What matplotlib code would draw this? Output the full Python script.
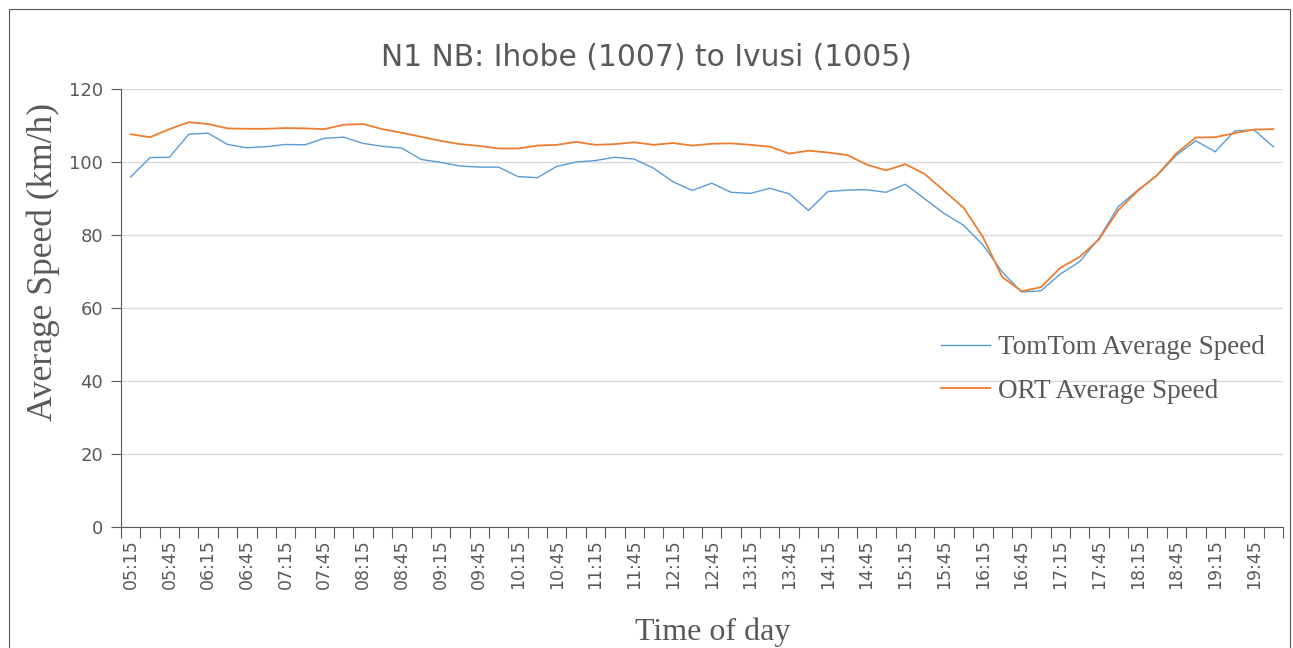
import numpy as np
import matplotlib
matplotlib.use("Agg")
import matplotlib.pyplot as plt
from matplotlib.patches import Rectangle

# 15-minute bins from 05:15 to 20:00
times = ["05:15", "05:30", "05:45", "06:00", "06:15", "06:30", "06:45", "07:00",
         "07:15", "07:30", "07:45", "08:00", "08:15", "08:30", "08:45", "09:00",
         "09:15", "09:30", "09:45", "10:00", "10:15", "10:30", "10:45", "11:00",
         "11:15", "11:30", "11:45", "12:00", "12:15", "12:30", "12:45", "13:00",
         "13:15", "13:30", "13:45", "14:00", "14:15", "14:30", "14:45", "15:00",
         "15:15", "15:30", "15:45", "16:00", "16:15", "16:30", "16:45", "17:00",
         "17:15", "17:30", "17:45", "18:00", "18:15", "18:30", "18:45", "19:00",
         "19:15", "19:30", "19:45", "20:00"]

tomtom = [95.9, 101.2, 101.3, 107.6, 107.9, 104.8, 103.9, 104.2, 104.8, 104.7,
          106.5, 106.8, 105.1, 104.3, 103.8, 100.7, 99.9, 98.9, 98.6, 98.6,
          96.0, 95.7, 98.8, 100.0, 100.4, 101.3, 100.8, 98.3, 94.6, 92.2,
          94.2, 91.7, 91.4, 92.8, 91.3, 86.7, 91.9, 92.3, 92.4, 91.7,
          93.9, 89.9, 85.9, 82.7, 77.3, 69.9, 64.4, 64.7, 69.3, 72.7,
          79.1, 87.8, 92.3, 96.3, 101.9, 105.8, 102.8, 108.5, 108.8, 104.2]

ort = [107.6, 106.8, 109.0, 110.9, 110.4, 109.2, 109.1, 109.1, 109.3, 109.2,
       109.0, 110.2, 110.4, 109.0, 108.0, 106.9, 105.8, 104.9, 104.4, 103.7,
       103.7, 104.5, 104.7, 105.5, 104.7, 104.9, 105.4, 104.7, 105.2, 104.5,
       105.0, 105.1, 104.7, 104.2, 102.3, 103.1, 102.6, 101.9, 99.3, 97.7,
       99.4, 96.7, 92.1, 87.5, 79.5, 68.5, 64.6, 65.7, 71.0, 74.0,
       78.8, 86.8, 92.1, 96.4, 102.4, 106.7, 106.8, 107.9, 108.9, 109.0]

W, H = 1293, 648
fig = plt.figure(figsize=(W / 100, H / 100), dpi=100)
ax = fig.add_axes([121 / W, 1 - 527 / H, (1283 - 121) / W, (527 - 89) / H])

x = np.arange(len(times))
ax.plot(x, tomtom, color="#5B9BD5", lw=1.0, label="TomTom Average Speed")
ax.plot(x, ort, color="#ED7D31", lw=1.3, label="ORT Average Speed")

ax.set_xlim(-0.5, len(times) - 0.5)
ax.set_ylim(0, 120)
ax.set_yticks(range(0, 121, 20))
ax.grid(axis="y", color="#d9d9d9", lw=1.0)
ax.set_axisbelow(True)

# tick marks between categories, labels on every second category
ax.set_xticks(np.arange(-0.5, len(times), 1.0))
ax.set_xticklabels([])
ax.set_xticks(x[::2], minor=True)
ax.set_xticklabels(times[::2], minor=True, rotation=90, fontsize=12.5, color="#595959")
ax.tick_params(axis="x", which="major", length=8, color="#595959", direction="out")
ax.tick_params(axis="x", which="minor", length=0, pad=9)
ax.tick_params(axis="y", length=7, color="#595959", labelsize=13, labelcolor="#595959", pad=6)

for s in ["top", "right"]:
    ax.spines[s].set_visible(False)
ax.spines["left"].set_color("#595959")
ax.spines["bottom"].set_color("#595959")

fig.text(0.5, 1 - 57 / H, "N1 NB: Ihobe (1007) to Ivusi (1005)", ha="center", va="center",
         fontsize=21.4, color="#595959", family="DejaVu Sans")
fig.text(43 / W, 1 - 262 / H, "Average Speed (km/h)", rotation=90, ha="center", va="center",
         fontsize=25.5, color="#595959", family="Liberation Serif")
fig.text(713 / W, 1 - 632 / H, "Time of day", ha="center", va="center",
         fontsize=23, color="#595959", family="Liberation Serif")

ax.legend(loc="upper left", bbox_to_anchor=(941 / W, 1 - 335 / H), bbox_transform=fig.transFigure,
          frameon=False, prop={"family": "Liberation Serif", "size": 19.5}, labelcolor="#595959",
          handlelength=1.8, handletextpad=0.3, labelspacing=0.7, borderpad=0, borderaxespad=0)

fig.patches.append(Rectangle((9 / W, -0.05), (1290 - 9) / W, 1.05 - 9 / H, transform=fig.transFigure,
                             fill=False, edgecolor="#595959", lw=0.8))

fig.savefig("out.png", dpi=100)
